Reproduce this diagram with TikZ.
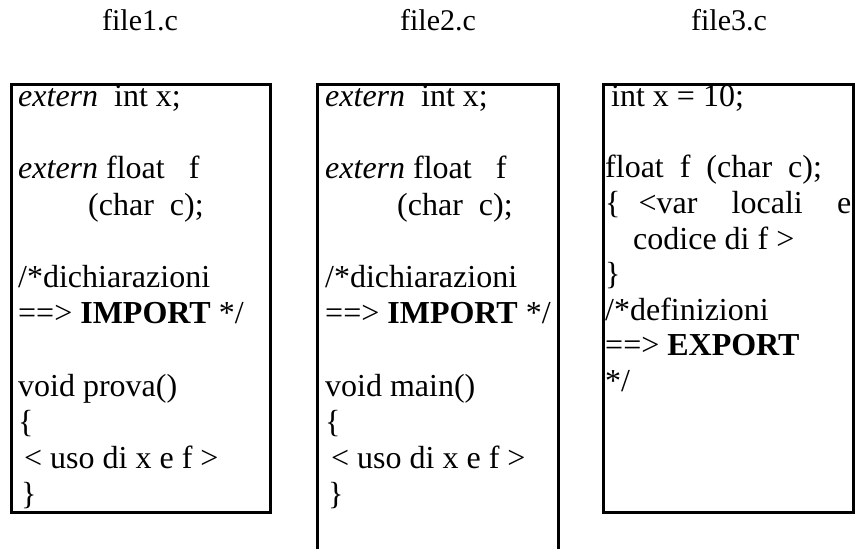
\documentclass[tikz,border=0pt]{standalone}
\usepackage{fontspec}
\setmainfont{Liberation Serif}
\begin{document}
\begin{tikzpicture}[x=1pt,y=-1pt,
  frame/.style={line width=3pt},
  title/.style={anchor=base, inner sep=0pt, font=\fontsize{30}{34}\selectfont},
  code/.style={anchor=base west, inner sep=0pt}]
\useasboundingbox (0,0) rectangle (861,549);

% file names
\node[title] (t1) at (140,30) {file1.c};
\node[title] (t2) at (438,30) {file2.c};
\node[title] (t3) at (729,30) {file3.c};

% frames
\draw[frame] (11.5,84.5) rectangle (270,512);
\draw[frame] (317.5,549) -- (317.5,84.5) -- (558.5,84.5) -- (558.5,549);
\draw[frame] (603,84.5) rectangle (853.5,512);

% file1.c
\node[code] (c1) at (18,106.5) {\parbox[t]{245pt}{\fontsize{32}{36.2}\selectfont\raggedright
\textit{extern}\ \ int x;\\
\mbox{}\\
\textit{extern} float\ \ \ f\\
\hspace*{70pt}(char\ \ c);\\
\mbox{}\\
/*dichiarazioni\\
==> \textbf{IMPORT} */\\
\mbox{}\\
void prova()\\
\{\\
\hspace*{6pt}< uso di x e f >\\
\hspace*{3pt}\}}};

% file2.c
\node[code] (c2) at (325,106.5) {\parbox[t]{228pt}{\fontsize{32}{36.2}\selectfont\raggedright
\textit{extern}\ \ int x;\\
\mbox{}\\
\textit{extern} float\ \ \ f\\
\hspace*{72pt}(char\ \ c);\\
\mbox{}\\
/*dichiarazioni\\
==> \textbf{IMPORT} */\\
\mbox{}\\
void main()\\
\{\\
\hspace*{6pt}< uso di x e f >\\
\hspace*{3pt}\}}};

% file3.c
\node[code] (c3) at (605,106.7) {\parbox[t]{246pt}{\fontsize{32}{35.6}\selectfont\raggedright
\hspace*{6pt}int x = 10;\\
\mbox{}\\
float\ \ f\ \ (char\ \ c);\\
\{\hspace{18pt}<var\hfill locali\hfill e\\
\hspace*{28pt}codice di f >\\
\}\\
/*definizioni\\
==> \textbf{EXPORT}\\\relax
*/}};
\end{tikzpicture}
\end{document}
